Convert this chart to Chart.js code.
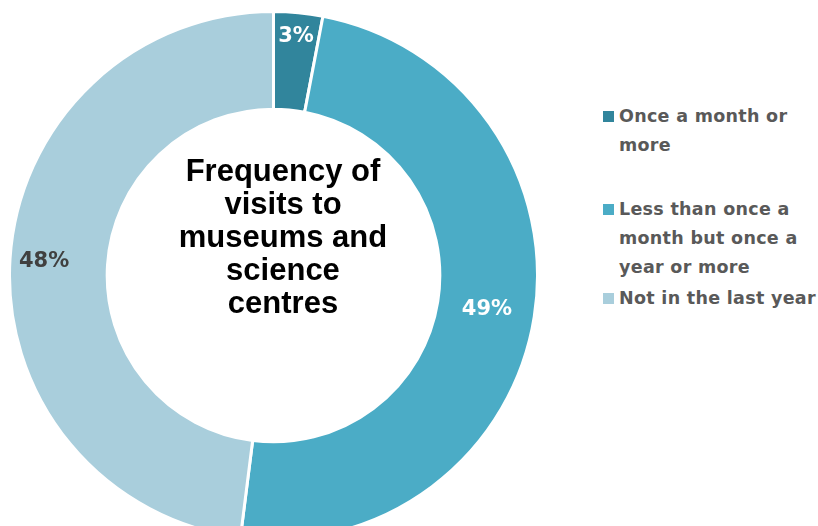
<!DOCTYPE html>
<html>
<head>
<meta charset="utf-8">
<script src="https://cdn.jsdelivr.net/npm/chart.js@4"></script>
<style>
  html, body { margin: 0; padding: 0; background: #fff; }
  #wrap { position: relative; width: 818px; height: 526px; overflow: hidden; }
  #chartBox { position: absolute; left: 8px; top: 10px; width: 531px; height: 531px; }
  #centerText {
    position: absolute; left: 153px; width: 260px; top: 154px;
    font: bold 31px "Liberation Sans", Arial, sans-serif; line-height: 33px;
    text-align: center; color: #000;
  }
  .leg { position: absolute; left: 603px; font: bold 17.5px "DejaVu Sans", sans-serif; letter-spacing: 0.3px; color: #595959; line-height: 29px; }
  .leg .box { position: absolute; left: 0; top: 9px; width: 11px; height: 11px; }
  .leg .txt { margin-left: 16px; white-space: nowrap; }
</style>
</head>
<body>
<div id="wrap">
  <div id="chartBox"><canvas id="donut"></canvas></div>
  <div id="centerText"></div>
  <div id="legend"></div>
</div>
<script>
// Données
const categories = [
  ['Once a month or', 'more'],
  ['Less than once a', 'month but once a', 'year or more'],
  ['Not in the last year']
];
const values = [3, 49, 48];
const colors = ['#31859C', '#4BACC6', '#A9CEDC'];
const labelColors = ['#ffffff', '#ffffff', '#404040'];
const centerTitle = ['Frequency of', 'visits to', 'museums and', 'science', 'centres'];
const legendTops = [102, 195, 284];

// Étiquettes de pourcentage sur les segments
const pctLabels = {
  id: 'pctLabels',
  afterDatasetsDraw(chart, args, opts) {
    const c = chart.ctx;
    const meta = chart.getDatasetMeta(0);
    c.save();
    c.font = 'bold 21px "DejaVu Sans", sans-serif';
    c.textAlign = 'center';
    c.textBaseline = 'middle';
    meta.data.forEach((arc, i) => {
      const mid = (arc.startAngle + arc.endAngle) / 2;
      const r = arc.innerRadius + (arc.outerRadius - arc.innerRadius) * opts.offsets[i];
      c.fillStyle = labelColors[i];
      c.fillText(values[i] + '%', arc.x + Math.cos(mid) * r, arc.y + Math.sin(mid) * r);
    });
    c.restore();
  }
};

const ctx = document.getElementById('donut').getContext('2d');
const donut = new Chart(ctx, {
  type: 'doughnut',
  data: {
    labels: categories,
    datasets: [{
      data: values,
      backgroundColor: colors,
      borderColor: '#ffffff',
      borderWidth: 3
    }]
  },
  options: {
    responsive: true,
    maintainAspectRatio: false,
    animation: false,
    cutout: '63%',
    layout: { padding: 0 },
    plugins: {
      legend: { display: false },
      tooltip: { enabled: false },
      pctLabels: { offsets: [0.75, 0.51, 0.65] }
    }
  },
  plugins: [pctLabels]
});

// Titre au centre
document.getElementById('centerText').innerHTML = centerTitle.join('<br>');

// Légende
const legendEl = document.getElementById('legend');
categories.forEach((lines, i) => {
  const d = document.createElement('div');
  d.className = 'leg';
  d.style.top = legendTops[i] + 'px';
  d.innerHTML = '<span class="box" style="background:' + colors[i] + '"></span>' +
    '<div class="txt">' + lines.join('<br>') + '</div>';
  legendEl.appendChild(d);
});
</script>
</body>
</html>
